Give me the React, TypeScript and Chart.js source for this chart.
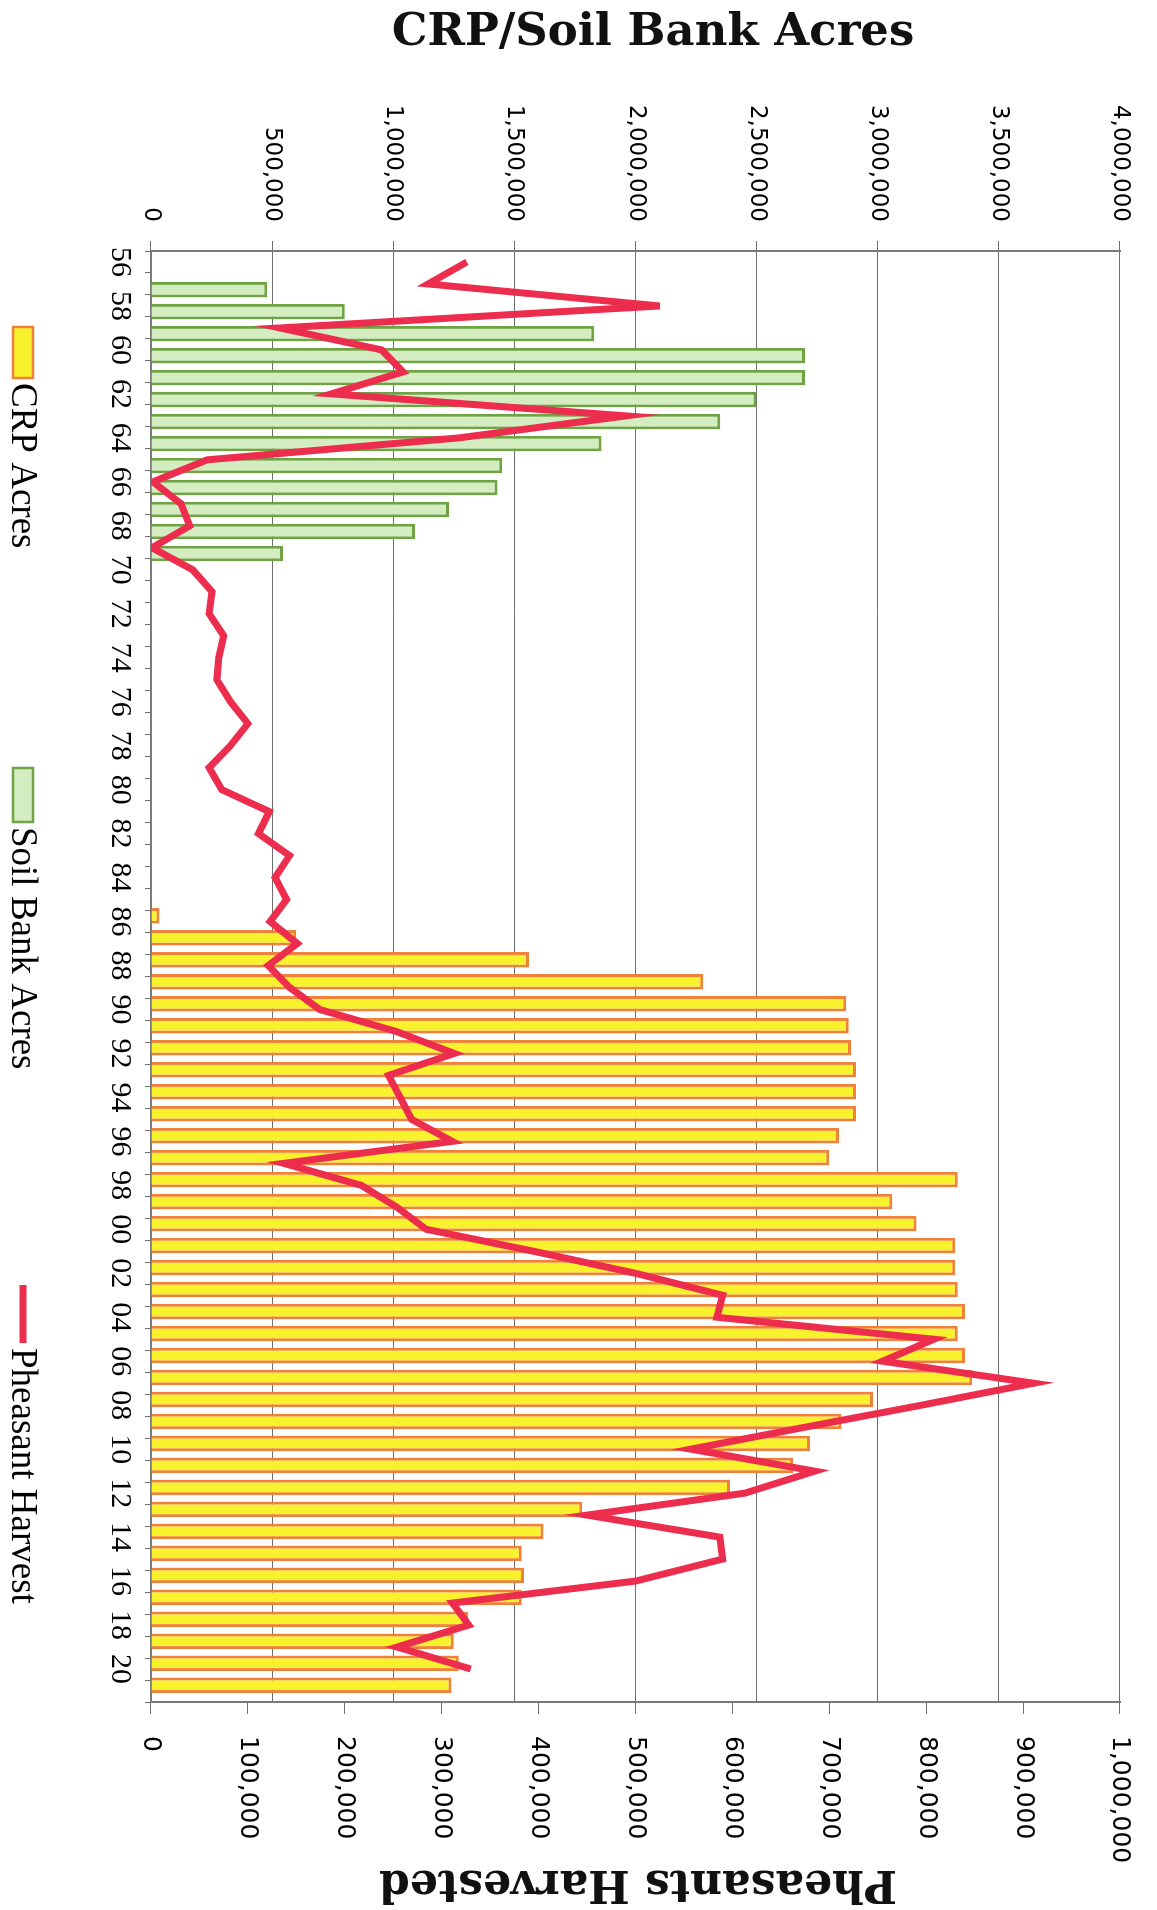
import React, { useEffect, useRef } from 'react';
import { Chart, registerables } from 'chart.js';

Chart.register(...registerables);

// ---------- data ----------
const years = [
  '56','57','58','59','60','61','62','63','64','65',
  '66','67','68','69','70','71','72','73','74','75',
  '76','77','78','79','80','81','82','83','84','85',
  '86','87','88','89','90','91','92','93','94','95',
  '96','97','98','99','00','01','02','03','04','05',
  '06','07','08','09','10','11','12','13','14','15',
  '16','17','18','19','20','21',
];

const crpAcres = [
  null, null, null, null, null, null, null, null, null, null,
  null, null, null, null, null, null, null, null, null, null,
  null, null, null, null, null, null, null, null, null, null,
  35000, 600000, 1560000, 2280000, 2870000, 2880000, 2890000, 2910000, 2910000, 2910000,
  2840000, 2800000, 3330000, 3060000, 3160000, 3320000, 3320000, 3330000, 3360000, 3330000,
  3360000, 3390000, 2980000, 2850000, 2720000, 2650000, 2390000, 1780000, 1620000, 1530000,
  1540000, 1530000, 1310000, 1250000, 1270000, 1240000,
];

const soilBankAcres = [
  null, 480000, 800000, 1830000, 2700000, 2700000, 2500000, 2350000, 1860000, 1450000,
  1430000, 1230000, 1090000, 545000, null, null, null, null, null, null,
  null, null, null, null, null, null, null, null, null, null,
  null, null, null, null, null, null, null, null, null, null,
  null, null, null, null, null, null, null, null, null, null,
  null, null, null, null, null, null, null, null, null, null,
  null, null, null, null, null, null,
];

const pheasantHarvest = [
  326000, 286000, 525000, 133000, 238000, 260000, 186000, 490000, 318000, 58000,
  2000, 31000, 40000, 1000, 43000, 63000, 60000, 75000, 70000, 68000,
  82000, 100000, 82000, 60000, 73000, 122000, 111000, 143000, 128000, 140000,
  123000, 151000, 121000, 143000, 174000, 253000, 313000, 245000, 257000, 269000,
  311000, 137000, 217000, 254000, 284000, 395000, 500000, 590000, 584000, 808000,
  755000, 911000, 795000, 675000, 557000, 685000, 613000, 450000, 587000, 590000,
  500000, 311000, 328000, 254000, 330000, null,
];

const acresAxisMax = 4000000;
const acresAxisStep = 500000;
const harvestAxisMax = 1000000;
const harvestAxisStep = 100000;

const seriesNames = ['CRP Acres', 'Soil Bank Acres', 'Pheasant Harvest'];
const acresTitle = 'CRP/Soil Bank Acres';
const harvestTitle = 'Pheasants Harvested';

// ---------- styles ----------
const W = 1910; // drawn landscape, then turned a quarter to the right
const H = 1157;
const legendSlots = [
  { x: 327, w: 51 },
  { x: 768, w: 54 },
  { x: 1285, w: 58 },
];
const gridColor = '#6e6e6e';

const fmt = (v: any) => Number(v).toLocaleString('en-US');

const overlayPlugin = {
  id: 'overlay',
  afterDraw(chart: any) {
    const ctx = chart.ctx as CanvasRenderingContext2D;
    const area = chart.chartArea;
    // axis titles
    ctx.save();
    ctx.fillStyle = '#111';
    ctx.font = 'bold 45px "DejaVu Serif", serif';
    ctx.textAlign = 'center';
    ctx.textBaseline = 'middle';
    ctx.save();
    ctx.translate(33, area.top + 467);
    ctx.rotate(-Math.PI / 2);
    ctx.fillText(acresTitle, 0, 0);
    ctx.restore();
    ctx.save();
    ctx.translate(1882, area.top + 482);
    ctx.rotate(Math.PI / 2);
    ctx.font = 'bold 44px "DejaVu Serif", serif';
    ctx.fillText(harvestTitle, 0, 0);
    ctx.restore();
    ctx.restore();

    // legend
    const cy = 1134;
    chart.data.datasets.forEach((ds: any, i: number) => {
      const s = legendSlots[i];
      ctx.save();
      if (ds.type === 'line') {
        ctx.strokeStyle = ds.borderColor;
        ctx.lineWidth = 7;
        ctx.beginPath();
        ctx.moveTo(s.x, cy);
        ctx.lineTo(s.x + s.w, cy);
        ctx.stroke();
      } else {
        ctx.fillStyle = ds.backgroundColor;
        ctx.strokeStyle = ds.borderColor;
        ctx.lineWidth = 2.5;
        ctx.fillRect(s.x, cy - 10, s.w, 20);
        ctx.strokeRect(s.x, cy - 10, s.w, 20);
      }
      ctx.fillStyle = '#000';
      ctx.font = '37px "Liberation Serif", serif';
      ctx.textAlign = 'left';
      ctx.textBaseline = 'middle';
      ctx.fillText(ds.label, s.x + s.w + 5, cy + 1);
      ctx.restore();
    });
  },
};

export default function App() {
  const ref = useRef<HTMLCanvasElement>(null);

  useEffect(() => {
    document.body.style.margin = '0';
    const canvas = ref.current!;
    const chart = new Chart(canvas, {
      type: 'bar',
      data: {
        labels: years,
        datasets: [
          {
            type: 'bar',
            label: seriesNames[0],
            data: crpAcres,
            yAxisID: 'yA',
            backgroundColor: '#f7f22c',
            borderColor: '#f0803a',
            borderWidth: 3,
            categoryPercentage: 1.04,
            barPercentage: 1.36,
            order: 1,
          },
          {
            type: 'bar',
            label: seriesNames[1],
            data: soilBankAcres,
            yAxisID: 'yA',
            backgroundColor: '#d3edc0',
            borderColor: '#6fa444',
            borderWidth: 3,
            categoryPercentage: 1.04,
            barPercentage: 1.36,
            order: 2,
          },
          {
            type: 'line',
            label: seriesNames[2],
            data: pheasantHarvest,
            yAxisID: 'yP',
            borderColor: '#ec2d4e',
            backgroundColor: '#ec2d4e',
            borderWidth: 7,
            pointRadius: 0,
            tension: 0,
            order: 0,
          },
        ] as any,
      },
      options: {
        responsive: false,
        animation: false,
        devicePixelRatio: 1,
        layout: { padding: { top: 30, left: 0, right: 0, bottom: 0 } },
        plugins: {
          legend: { display: false },
          tooltip: { enabled: false },
        },
        scales: {
          x: {
            type: 'category',
            position: 'bottom',
            offset: true,
            grid: {
              display: true,
              drawOnChartArea: false,
              drawTicks: true,
              tickLength: 6,
              color: gridColor,
              lineWidth: 1,
              offset: true,
            },
            border: { display: true, color: '#7a7a7a', width: 2 },
            ticks: {
              autoSkip: false,
              maxRotation: 0,
              minRotation: 0,
              padding: 7,
              color: '#000',
              font: { family: '"Liberation Serif", serif', size: 30 },
              callback: (_v: any, i: number) => (i % 2 === 0 ? years[i] : ''),
            },
            afterFit: (s: any) => {
              s.height = 151;
            },
          },
          yA: {
            type: 'linear',
            position: 'left',
            min: 0,
            max: acresAxisMax,
            ticks: {
              stepSize: acresAxisStep,
              padding: 19,
              color: '#000',
              font: { family: '"DejaVu Sans", sans-serif', size: 23 },
              callback: (v: any) => fmt(v),
            },
            grid: { color: gridColor, lineWidth: 1, tickLength: 10 },
            border: { display: true, color: '#7a7a7a', width: 2 },
            afterFit: (s: any) => {
              s.width = 251;
            },
          },
          yP: {
            type: 'linear',
            position: 'right',
            min: 0,
            max: harvestAxisMax,
            ticks: {
              stepSize: harvestAxisStep,
              padding: 22,
              color: '#000',
              font: { family: '"DejaVu Sans", sans-serif', size: 25 },
              callback: (v: any) => fmt(v),
            },
            grid: { drawOnChartArea: false, tickLength: 12, color: gridColor, lineWidth: 1 },
            border: { display: true, color: '#7a7a7a', width: 2 },
            afterFit: (s: any) => {
              s.width = W - 1702;
            },
          },
        },
      } as any,
      plugins: [overlayPlugin],
    });
    return () => chart.destroy();
  }, []);

  return (
    <div
      style={{
        position: 'fixed',
        left: 0,
        top: 0,
        width: H,
        height: W,
        overflow: 'hidden',
        background: '#fff',
      }}
    >
      <div
        style={{
          position: 'absolute',
          left: 0,
          top: 0,
          width: W,
          height: H,
          transformOrigin: '0 0',
          transform: `translateX(${H}px) rotate(90deg)`,
        }}
      >
        <canvas ref={ref} width={W} height={H} style={{ width: W, height: H, display: 'block' }} />
      </div>
    </div>
  );
}
